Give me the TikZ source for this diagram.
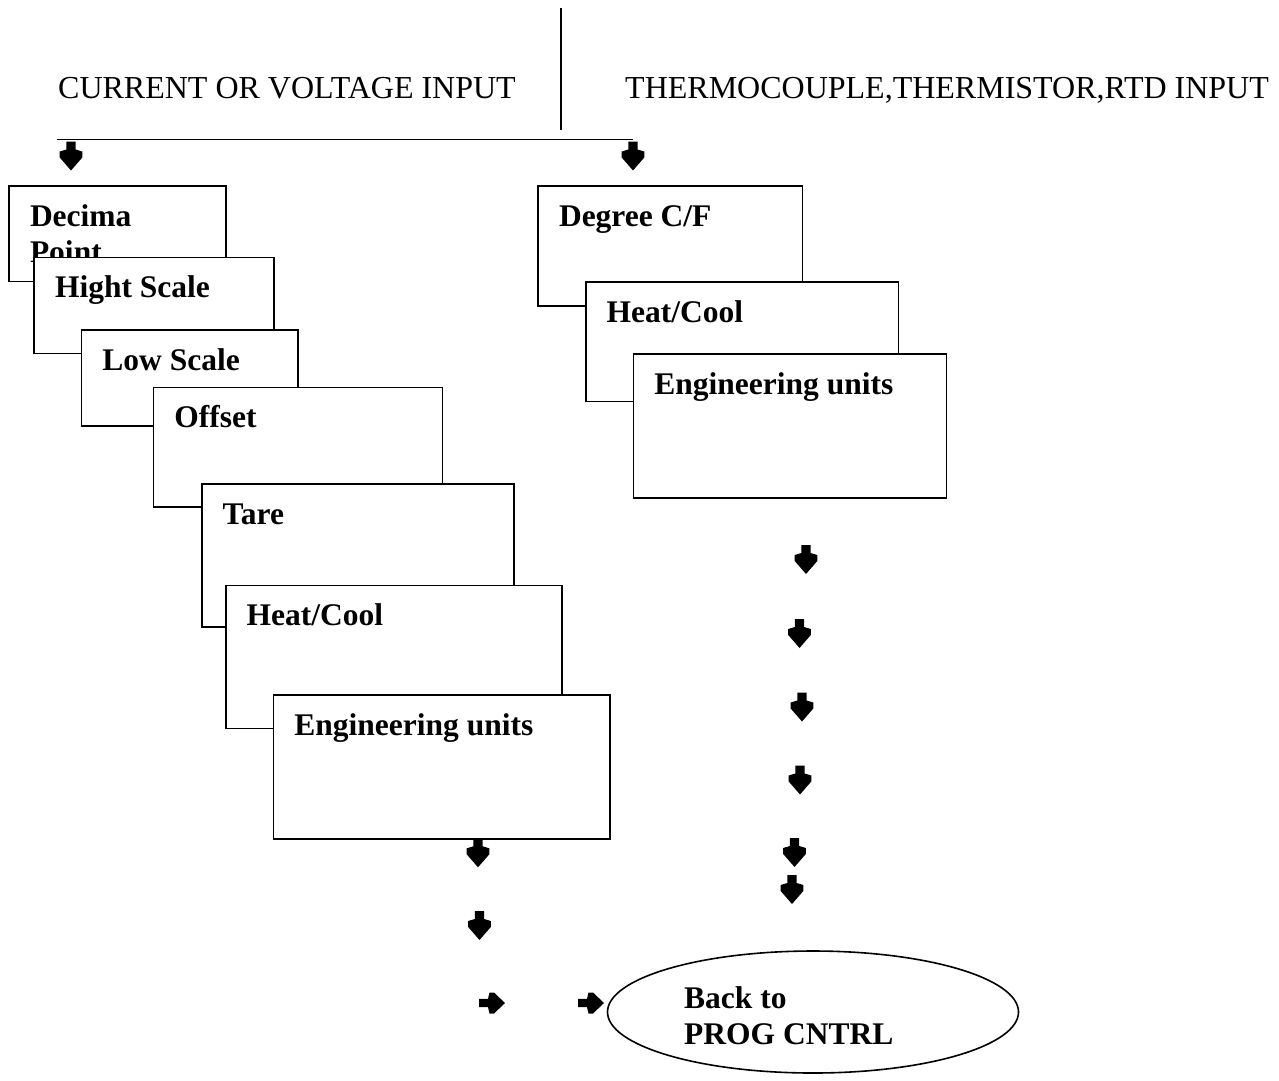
\documentclass[tikz,border=0pt]{standalone}
\usepackage{fontspec}
\setmainfont{Liberation Serif}
\usetikzlibrary{shapes.geometric}
\tikzset{
  stepbox/.style={draw=black, line width=1.6pt, fill=white, rectangle, inner sep=0pt, anchor=north west},
  lbl/.style={anchor=base west, inner sep=0pt, font=\fontsize{31.5}{36}\selectfont\bfseries, align=left},
  hdr/.style={anchor=base west, inner sep=0pt, font=\fontsize{32}{38}\selectfont},
  rule/.style={draw=black, line width=1.5pt},
  arrowglyph/.style={fill=black},
}
% box: name, x1, y1, x2, y2, text
\newcommand\stepat[6]{%
  \node[stepbox, minimum width={(#4-#2)*1pt}, minimum height={(#5-#3)*1pt}] (#1) at (#2,#3) {};
  \node[lbl] (#1-t) at ({#2+21.5},{#3+41}) {#6};
}
% downward block arrow, top centre at (x,y)
\newcommand\darr[3]{%
  \coordinate (#1) at (#2,#3);
  \fill[arrowglyph, shift={(#1)}] (-4.7,0) -- (4.7,0) -- (4.7,8) -- (11.3,10) -- (11.3,16) -- (0,29) -- (-11.3,16) -- (-11.3,10) -- (-4.7,8) -- cycle;
}
% rightward block arrow, tail centre at (x,y)
\newcommand\rarr[3]{%
  \coordinate (#1) at (#2,#3);
  \fill[arrowglyph, shift={(#1)}] (0,-4.2) -- (0,4.2) -- (9,4.2) -- (10.5,10.5) -- (15,10.5) -- (26,0) -- (15,-10.5) -- (10.5,-10.5) -- (9,-4.2) -- cycle;
}
\begin{document}
\begin{tikzpicture}[x=1pt,y=-1pt]
\useasboundingbox (0,0) rectangle (1279,1080);

% headers
\node[hdr] (hcur) at (58,98) {CURRENT OR VOLTAGE INPUT};
\node[hdr] (hthm) at (625,98) {THERMOCOUPLE,THERMISTOR,RTD INPUT};

% divider and branch line
\coordinate (divtop) at (561,8);
\coordinate (divbot) at (561,130);
\draw[rule] (divtop) -- (divbot);
\coordinate (brl) at (57,139.5);
\coordinate (brr) at (633,139.5);
\draw[rule] (brl) -- (brr);
\darr{al}{71}{141.5}
\darr{ar}{633}{141.5}

% left cascade
\node[stepbox, minimum width=216.7pt, minimum height=95.7pt] (b1) at (8.3,185) {};
\node[lbl] (b1-t) at (29.8,262.7) {Decima\\Point};
\stepat{b2}{33.3}{256.7}{273.3}{352.7}{Hight Scale}
\stepat{b3}{80.7}{329.3}{297.3}{425}{Low Scale}
\stepat{b4}{152.7}{386.7}{441.7}{506}{Offset}
\stepat{b5}{201}{483.3}{513.3}{626}{Tare}
\stepat{b6}{225}{584.7}{561}{727.7}{Heat/Cool}
\stepat{b7}{272.7}{694.3}{609.3}{838.3}{Engineering units}

% right cascade
\stepat{c1}{537.3}{185}{801.7}{305}{Degree C/F}
\stepat{c2}{585}{281}{897.7}{400.7}{Heat/Cool}
\stepat{c3}{632.7}{353}{945.7}{497.3}{Engineering units}

% arrows below left cascade
\darr{l1}{478}{838.3}
\darr{l2}{479.5}{911}

% arrows below right cascade
\darr{r1}{806}{545}
\darr{r2}{799.5}{619}
\darr{r3}{802}{692.5}
\darr{r4}{800}{765.5}
\darr{r5}{794.5}{838}
\darr{r6}{792}{875}

% final ellipse
\node[draw=black, line width=1.6pt, ellipse, minimum width=411pt, minimum height=122pt, inner sep=0pt] (back) at (813,1012) {};
\node[lbl] (back-t) at (684,1008) {Back to};
\node[lbl] (back-t2) at (684,1044) {PROG CNTRL};

\rarr{h1}{479}{1003}
\rarr{h2}{578}{1003}
\end{tikzpicture}
\end{document}
